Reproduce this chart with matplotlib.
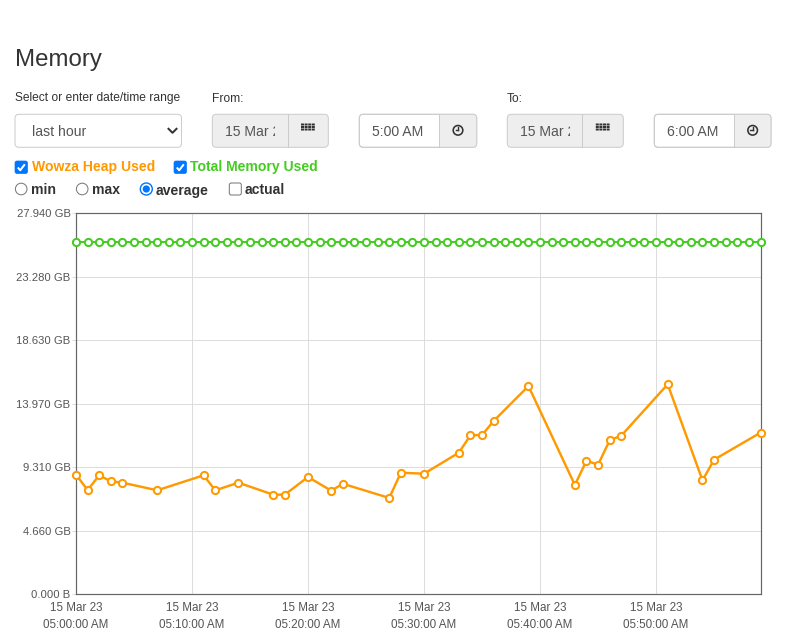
import matplotlib
matplotlib.use("Agg")
import matplotlib.pyplot as plt
from matplotlib.patches import FancyBboxPatch, Rectangle, Circle

plt.rcParams['font.family'] = ['Liberation Sans', 'DejaVu Sans']

# data (minutes after 05:00, values in GB)
heap_minutes = [0, 1, 2, 3, 4, 7, 11, 12, 14, 17, 18, 20, 22, 23, 27, 28, 30,
                33, 34, 35, 36, 39, 43, 44, 45, 46, 47, 51, 54, 55, 59]
heap_gb = [8.76, 7.63, 8.71, 8.27, 8.17, 7.61, 8.71, 7.61, 8.17, 7.29, 7.29,
           8.59, 7.58, 8.09, 7.05, 8.90, 8.83, 10.37, 11.65, 11.67, 12.70,
           15.26, 8.00, 9.78, 9.49, 11.28, 11.62, 15.39, 8.34, 9.86, 11.84]
total_minutes = list(range(60))
total_gb = [25.87] * 60

y_ticks = [0.0, 4.66, 9.31, 13.97, 18.63, 23.28, 27.94]
y_labels = ["0.000 B", "4.660 GB", "9.310 GB", "13.970 GB", "18.630 GB",
            "23.280 GB", "27.940 GB"]
x_ticks = [0, 10, 20, 30, 40, 50]
x_labels = ["15 Mar 23\n05:00:00 AM", "15 Mar 23\n05:10:00 AM",
            "15 Mar 23\n05:20:00 AM", "15 Mar 23\n05:30:00 AM",
            "15 Mar 23\n05:40:00 AM", "15 Mar 23\n05:50:00 AM"]

ORANGE = "#ff9900"
GREEN = "#44cc22"
BLUE = "#0075ff"
PX = 0.72  # points per pixel at dpi 100

W, H = 787, 634
fig = plt.figure(figsize=(W / 100, H / 100), dpi=100)

# page elements drawn in pixel coordinates
ui = fig.add_axes([0, 0, 1, 1])
ui.set_xlim(0, W)
ui.set_ylim(H, 0)
ui.axis("off")


def box(x0, y0, x1, y1, fc, ec="#cccccc"):
    p = FancyBboxPatch((x0, y0), x1 - x0, y1 - y0,
                       boxstyle="round,pad=0,rounding_size=4",
                       fc=fc, ec=ec, lw=1 * PX)
    ui.add_patch(p)
    return p


def grid_icon(cx, cy):
    for i in range(4):
        for j in range(3):
            ui.add_patch(Rectangle((cx - 7 + i * 3.6, cy - 3.5 + j * 2.5), 3.0, 2.0,
                                   fc="#333333", ec="none", snap=False))


def clock_icon(cx, cy):
    ui.add_patch(Circle((cx, cy), 4.8, fc="none", ec="#333333", lw=1.6 * PX))
    ui.plot([cx, cx], [cy, cy - 3], color="#333333", lw=1.4 * PX)
    ui.plot([cx, cx - 2.2], [cy, cy], color="#333333", lw=1.4 * PX)


def date_group(x0, xd, x1, text):
    box(x0, 114.3, x1, 147.3, "#eeeeee")
    t = ui.text(x0 + 13, 136, text, fontsize=14 * PX, color="#555555", clip_on=True)
    t.set_clip_path(Rectangle((x0, 110), 63, 40, transform=ui.transData))
    ui.plot([xd, xd], [114.3, 147.3], color="#cccccc", lw=1 * PX)
    grid_icon((xd + x1) / 2, 127)


def time_group(x0, xd, x1, text):
    p = box(x0, 114.3, x1, 147.3, "white")
    r = Rectangle((xd, 110), x1 - xd + 5, 40, fc="#eeeeee", ec="none")
    ui.add_patch(r)
    r.set_clip_path(p)
    box(x0, 114.3, x1, 147.3, "none")
    ui.plot([xd, xd], [114.3, 147.3], color="#cccccc", lw=1 * PX)
    ui.text(x0 + 13, 136, text, fontsize=14 * PX, color="#555555")
    clock_icon((xd + x1) / 2, 130.3)


def checkbox(x, y, checked):
    if checked:
        ui.add_patch(FancyBboxPatch((x, y - 6.5), 12.5, 12.5,
                                    boxstyle="round,pad=0,rounding_size=2",
                                    fc=BLUE, ec=BLUE, lw=0.5))
        ui.plot([x + 2.8, x + 5.2, x + 9.8], [y, y + 2.8, y - 3.2],
                color="white", lw=2 * PX, solid_capstyle="butt")
    else:
        ui.add_patch(FancyBboxPatch((x, y - 6), 12, 12,
                                    boxstyle="round,pad=0,rounding_size=2",
                                    fc="white", ec="#767676", lw=1 * PX))


def radio(x, y, selected):
    if selected:
        ui.add_patch(Circle((x + 6.3, y), 6.0, fc="white", ec=BLUE, lw=1.4 * PX))
        ui.add_patch(Circle((x + 6.3, y), 3.6, fc=BLUE, ec="none"))
    else:
        ui.add_patch(Circle((x + 6.2, y), 5.8, fc="white", ec="#767676", lw=1 * PX))


ui.text(15, 66, "Memory", fontsize=24 * PX, color="#333333")
ui.text(15, 101.5, "Select or enter date/time range", fontsize=12 * PX, color="#333333")
ui.text(212, 101.5, "From:", fontsize=12 * PX, color="#333333")
ui.text(507, 101.5, "To:", fontsize=12 * PX, color="#333333")

box(15, 114.3, 181.5, 147.3, "white")
ui.text(32, 136, "last hour", fontsize=14 * PX, color="#555555")
ui.plot([168.5, 172.5, 176.5], [128.8, 132.8, 128.8], color="#333333", lw=2 * PX)

date_group(212.3, 287.7, 328.3, "15 Mar 2023")
time_group(359.3, 439.3, 476.7, "5:00 AM")
date_group(507.3, 582.3, 623.3, "15 Mar 2023")
time_group(654.3, 734.3, 771.0, "6:00 AM")

checkbox(15, 167.5, True)
ui.text(31.5, 171.5, "Wowza Heap Used", fontsize=14 * PX, fontweight="bold", color=ORANGE)
checkbox(174, 167.5, True)
ui.text(190.5, 171.5, "Total Memory Used", fontsize=14 * PX, fontweight="bold", color=GREEN)

radio(15, 189, False)
ui.text(31.5, 194.5, "min", fontsize=14 * PX, fontweight="bold", color="#333333")
radio(76, 189, False)
ui.text(92.3, 194.5, "max", fontsize=14 * PX, fontweight="bold", color="#333333")
radio(140, 189, True)
ui.text(156, 194.5, "average", fontsize=14 * PX, fontweight="bold", color="#333333")
checkbox(229.3, 189, False)
ui.text(245, 194.5, "actual", fontsize=14 * PX, fontweight="bold", color="#333333")

# the chart itself
ax = fig.add_axes([76 / W, (H - 594) / H, 684.5 / W, 380.7 / H])
ax.set_xlim(0, 59)
ax.set_ylim(0, 27.94)

ax.plot(total_minutes, total_gb, color=GREEN, lw=2 * PX, marker="o",
        ms=5.2, mfc="white", mec=GREEN, mew=2 * PX, clip_on=False, zorder=3)
ax.plot(heap_minutes, heap_gb, color=ORANGE, lw=2.4 * PX, marker="o",
        ms=5.2, mfc="white", mec=ORANGE, mew=2 * PX, clip_on=False, zorder=3)

ax.set_yticks(y_ticks)
ax.set_yticklabels(y_labels)
ax.set_xticks(x_ticks)
ax.set_xticklabels(x_labels, linespacing=1.5)
ax.grid(True, color="#dddddd", lw=1 * PX)
ax.set_axisbelow(True)
ax.tick_params(axis="y", length=4 * PX, width=1 * PX, color="#dddddd", pad=1.0,
               labelsize=11.3 * PX, labelcolor="#555555")
ax.tick_params(axis="x", length=0, pad=6, labelsize=11.6 * PX, labelcolor="#555555")
for s in ax.spines.values():
    s.set_color("#666666")
    s.set_linewidth(1.2 * PX)

fig.savefig("out.png", dpi=100)
